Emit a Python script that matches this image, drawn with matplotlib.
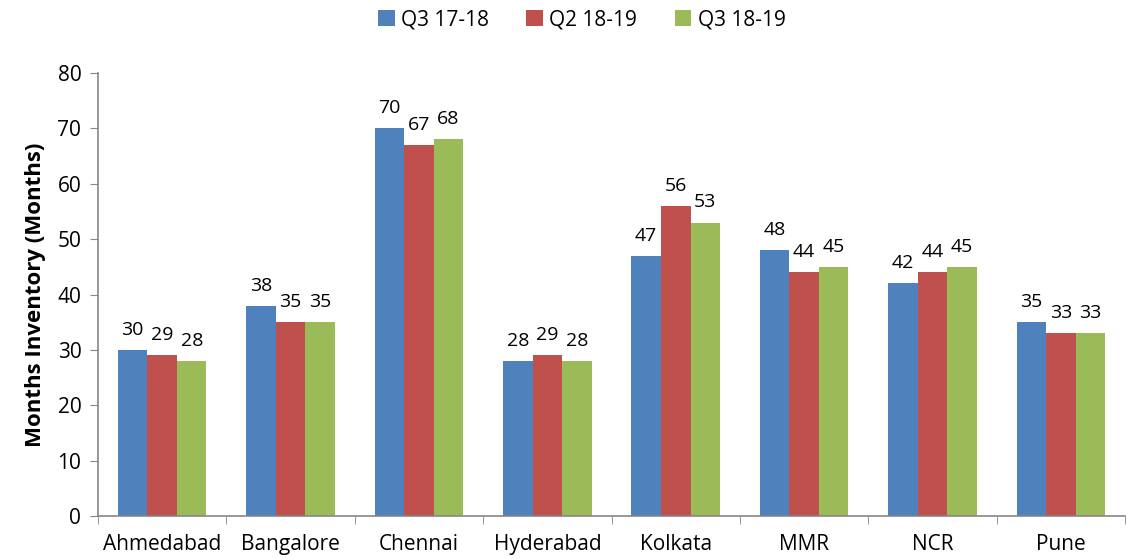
import numpy as np
import matplotlib.pyplot as plt

cities = ['Ahmedabad', 'Bangalore', 'Chennai', 'Hyderabad', 'Kolkata', 'MMR', 'NCR', 'Pune']
q3_1718 = [30, 38, 70, 28, 47, 48, 42, 35]
q2_1819 = [29, 35, 67, 29, 56, 44, 44, 33]
q3_1819 = [28, 35, 68, 28, 53, 45, 45, 33]
series = ['Q3 17-18', 'Q2 18-19', 'Q3 18-19']
colors = ['#4F81BD', '#C0504D', '#9BBB59']

plt.rcParams['font.family'] = ['Open Sans', 'DejaVu Sans']

fig = plt.figure(figsize=(11.45, 5.59), dpi=100)
ax = fig.add_axes([0.0856, 0.0769, 0.897, 0.7925])

x = np.arange(len(cities))
w = 0.23
for i, (vals, name, c) in enumerate(zip([q3_1718, q2_1819, q3_1819], series, colors)):
    bars = ax.bar(x + (i - 1) * w, vals, w, color=c, label=name)
    for b, v in zip(bars, vals):
        ax.text(b.get_x() + b.get_width() / 2, v + 2.0, str(v), ha='center', va='bottom',
                fontsize=14, color='#000000')

ax.set_xlim(-0.5, len(cities) - 0.5)
ax.set_ylim(0, 80)
ax.set_yticks(range(0, 81, 10))
ax.set_xticks(x)
ax.set_xticklabels(cities, fontsize=15)
ax.set_xticks(np.arange(-0.5, len(cities), 1), minor=True)
ax.tick_params(axis='x', which='major', length=0, pad=13)
ax.tick_params(axis='x', which='minor', length=6, color='#868686', direction='out')
ax.tick_params(axis='y', labelsize=15, length=6, color='#868686', pad=6)
for s in ['top', 'right']:
    ax.spines[s].set_visible(False)
for s in ['left', 'bottom']:
    ax.spines[s].set_color('#868686')
    ax.spines[s].set_linewidth(1.2)
ax.set_ylabel('Months Inventory (Months)', fontsize=16, fontweight='bold', labelpad=8)

ax.legend(loc='center', bbox_to_anchor=(0.471, 1.12), ncol=3, frameon=False,
          fontsize=15, handlelength=0.8, handleheight=0.8, handletextpad=0.3,
          columnspacing=1.8)

fig.savefig('out.png', dpi=100)
